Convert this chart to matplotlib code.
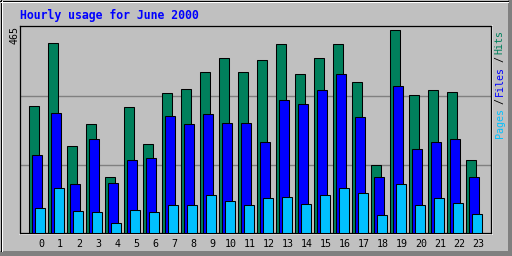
import numpy as np
import matplotlib
matplotlib.use("Agg")
import matplotlib.pyplot as plt
from matplotlib.patches import Rectangle

# hourly usage, June 2000
hours = list(range(24))
hits = [291, 435, 200, 250, 127, 289, 204, 319, 330, 369, 401, 367,
        396, 431, 364, 401, 431, 346, 156, 465, 316, 326, 323, 168]
files = [179, 275, 113, 214, 115, 166, 172, 268, 250, 271, 252, 252,
         209, 303, 296, 326, 364, 266, 129, 337, 193, 209, 214, 129]
pages = [58, 104, 51, 49, 24, 53, 49, 65, 63, 88, 74, 63,
         81, 83, 67, 88, 102, 92, 42, 111, 63, 81, 69, 44]
max_hits = 465

GRAY = '#c0c0c0'
DARK = '#808080'
HIT_C = '#00805c'
FILE_C = '#0000ff'
PAGE_C = '#00c0ff'
MONO = 'DejaVu Sans Mono'

W, H = 512, 256
fig = plt.figure(figsize=(W / 100, H / 100), dpi=100)
fig.patch.set_facecolor(GRAY)

# overlay in pixel coordinates for the frame and side labels
bg = fig.add_axes([0, 0, 1, 1], zorder=-1)
bg.set_xlim(0, W)
bg.set_ylim(H, 0)
bg.axis('off')
bg.add_patch(Rectangle((W - 4, 0), 4, H, color=DARK, lw=0))
bg.add_patch(Rectangle((0, H - 5), W, 5, color=DARK, lw=0))
bg.plot([0.5, 0.5], [0, H - 5], color='black', lw=0.75)
bg.plot([0, W - 4], [0.5, 0.5], color='black', lw=0.75)
bg.plot([1.5, 1.5], [1, H - 5], color='white', lw=0.75)
bg.plot([1, W - 4], [1.5, 1.5], color='white', lw=0.75)

# plot box, pixels from top
px_l, px_r, px_t, px_b = 20, 490.7, 25.5, 233
ax = fig.add_axes([px_l / W, 1 - px_b / H, (px_r - px_l) / W, (px_b - px_t) / H])
ax.set_facecolor(GRAY)

# white bevel on right/bottom of plot box
bg.plot([px_r + 1, px_r + 1], [px_t, px_b + 1], color='white', lw=1.2)
bg.plot([px_l, px_r + 1], [px_b + 1, px_b + 1], color='white', lw=1.2)

slot = 19.0  # pixels per hour
x = np.array(hours, dtype=float)
bw = 9.6 / slot
ax.bar(x - 12 / slot, hits, width=bw, align='edge', color=HIT_C,
       edgecolor='black', linewidth=0.75, zorder=3)
ax.bar(x - 9 / slot, files, width=bw, align='edge', color=FILE_C,
       edgecolor='black', linewidth=0.75, zorder=4)
ax.bar(x - 6 / slot, pages, width=bw, align='edge', color=PAGE_C,
       edgecolor='black', linewidth=0.75, zorder=5)

ymax = max_hits * (px_b - px_t) / 203.4
ax.set_ylim(0, ymax)
ax.set_xlim(-21.2 / slot, (px_r - 41.2) / slot)
for g in [max_hits / 3, max_hits * 2 / 3 + 3]:
    ax.axhline(g, color=DARK, lw=1.0, zorder=1)

ax.set_yticks([])
ax.set_xticks(x)
ax.set_xticklabels([str(h) for h in hours], family=MONO, fontsize=7.2)
ax.tick_params(axis='x', length=0, pad=4.5)
for s in ax.spines.values():
    s.set_color('black')
    s.set_linewidth(0.9)

# title
bg.text(20, 19.5, 'Hourly usage for June 2000', family=MONO, weight='bold',
        fontsize=8.3, color=FILE_C, ha='left', va='baseline')

# max value on the left
bg.text(14.5, 26.5, str(max_hits), family=MONO, fontsize=7.2, rotation=90,
        ha='center', va='top', color='black')

# legend on the right, reading bottom to top (pixel row of each piece's bottom)
pieces = [('Pages', 137.5, PAGE_C), ('/', 104.5, 'black'), ('Files', 95.5, FILE_C),
          ('/', 62, 'black'), ('Hits', 53.5, HIT_C)]
for txt, ypos, col in pieces:
    bg.text(499.5, ypos, txt, family=MONO, fontsize=7.2,
            rotation=90, ha='center', va='bottom', color=col)

fig.savefig('out.png', dpi=100, facecolor=GRAY)
